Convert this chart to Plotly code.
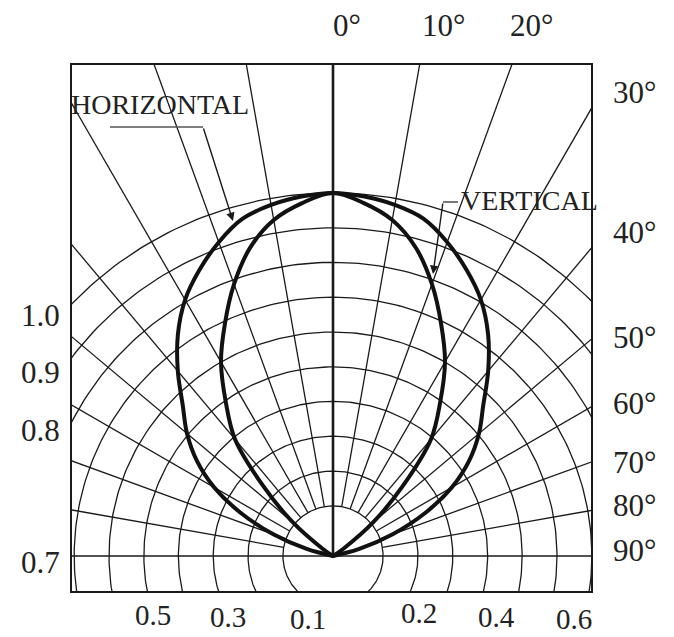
"""Relative luminous intensity diagram (horizontal / vertical lobes)."""

import numpy as np
import plotly.graph_objects as go

# ---- data ---------------------------------------------------------------
angles_deg = [0, 5, 10, 15, 20, 25, 30, 35, 40, 45, 50, 55, 60, 65, 70, 75, 80, 85, 90]
horizontal = [1.0, 0.994, 0.982, 0.962, 0.92, 0.87, 0.815, 0.745, 0.665, 0.585,
              0.525, 0.458, 0.378, 0.28, 0.175, 0.075, 0.0, 0.0, 0.0]
vertical = [1.0, 0.976, 0.94, 0.88, 0.797, 0.705, 0.617, 0.514, 0.42, 0.27,
            0.145, 0.035, 0.0, 0.0, 0.0, 0.0, 0.0, 0.0, 0.0]

grid_radii = [0.138, 0.234, 0.330, 0.426, 0.521, 0.617, 0.713, 0.809, 0.904, 1.0]
grid_angles = [-80, -70, -60, -50, -40, -30, -20, -10, 10, 20, 30, 40, 50, 60, 70, 80]

left_labels = ["1.0", "0.9", "0.8", "0.7"]
bottom_labels = ["0.5", "0.3", "0.1", "0.2", "0.4", "0.6"]
top_labels = ["0°", "10°", "20°"]
right_labels = ["30°", "40°", "50°", "60°", "70°", "80°", "90°"]

# ---- layout geometry (page pixels of the 674x637 window) ----------------
OFF = 8                                    # default body margin of the html page
W, H = 674 - OFF, 637 - OFF
PL, PR, PT, PB = 72, 591, 65, 591          # plot frame in page pixels
left_pos = [(62, 315), (62, 372), (62, 430), (62, 562)]
bottom_pos = [(153, 615), (228, 617), (308, 619), (419, 613), (496, 617), (574, 619)]
top_pos = [(347, 25), (443, 25), (531, 25)]
right_pos = [(611, 92), (611, 233), (611, 337), (611, 403), (611, 462), (611, 505), (611, 550)]

INK = "#1a1a1a"
FONT = "Liberation Serif, Times New Roman, serif"


def px(x, y):
    """Page pixels -> paper coordinates."""
    return (x - PL) / (PR - PL), (PB - y) / (PB - PT)


fig = go.Figure()

# concentric circles (full circles, clipped by the frame)
t = np.linspace(0, 2 * np.pi, 361)
for r in grid_radii:
    fig.add_trace(go.Scatter(
        x=r * np.sin(t), y=r * np.cos(t), mode="lines",
        line={"color": INK, "width": 1.3}, hoverinfo="skip", showlegend=False,
    ))

# radial lines from the inner circle out past the frame
for a in grid_angles:
    th = np.radians(a)
    rr = np.array([grid_radii[0], 3.0])
    fig.add_trace(go.Scatter(
        x=rr * np.sin(th), y=rr * np.cos(th), mode="lines",
        line={"color": INK, "width": 1.3}, hoverinfo="skip", showlegend=False,
    ))

# 90 degree axis across the whole frame, 0 degree axis upwards
fig.add_trace(go.Scatter(x=[-3, 3], y=[0, 0], mode="lines",
                         line={"color": INK, "width": 1.6},
                         hoverinfo="skip", showlegend=False))
fig.add_trace(go.Scatter(x=[0, 0], y=[0, 3], mode="lines",
                         line={"color": INK, "width": 2.6},
                         hoverinfo="skip", showlegend=False))

# lobes
for name, vals in [("HORIZONTAL", horizontal), ("VERTICAL", vertical)]:
    full_ang = [-a for a in angles_deg[::-1]] + angles_deg[1:]
    full_r = vals[::-1] + vals[1:]
    th = np.radians(full_ang)
    r = np.array(full_r)
    fig.add_trace(go.Scatter(
        x=r * np.sin(th), y=r * np.cos(th), mode="lines", name=name,
        line={"color": "#111111", "width": 4, "shape": "spline", "smoothing": 1.0},
        showlegend=False,
    ))

# text labels
annotations = []


def add_text(text, x, y, xanchor="center", size=31):
    ax_, ay_ = px(x, y)
    annotations.append({
        "text": text, "x": ax_, "y": ay_, "xref": "paper", "yref": "paper",
        "xanchor": xanchor, "yanchor": "middle", "showarrow": False,
        "font": {"family": FONT, "size": size, "color": "#222222"},
    })


for txt, (x, y) in zip(left_labels, left_pos):
    add_text(txt, x, y, xanchor="right")
for txt, (x, y) in zip(bottom_labels, bottom_pos):
    add_text(txt, x, y, size=29)
for txt, (x, y) in zip(top_labels, top_pos):
    add_text(txt, x, y)
for txt, (x, y) in zip(right_labels, right_pos):
    add_text(txt, x, y, xanchor="left")

add_text("HORIZONTAL", 160, 104, size=28)
add_text("VERTICAL", 529, 200, size=28)

# leader lines with arrow tips
for (x0, y0), (x1, y1) in [((203, 127), (233, 221)), ((443, 202), (433, 274))]:
    tx, ty = px(x1, y1)
    annotations.append({
        "x": tx, "y": ty, "ax": x0 - x1, "ay": y0 - y1,
        "xref": "paper", "yref": "paper", "axref": "pixel", "ayref": "pixel",
        "text": "", "showarrow": True,
        "arrowhead": 2, "arrowsize": 1.2, "arrowwidth": 1.4, "arrowcolor": INK,
    })

shapes = []
for (x0, y0), (x1, y1) in [((110, 127), (203, 127)), ((443, 202), (458, 202))]:
    a0, b0 = px(x0, y0)
    a1, b1 = px(x1, y1)
    shapes.append({"type": "line", "xref": "paper", "yref": "paper",
                   "x0": a0, "y0": b0, "x1": a1, "y1": b1,
                   "line": {"color": "#555555", "width": 1.6}})

scale = 363.0  # pixels per unit of relative intensity
ox, oy = 333, 556  # origin in page pixels
fig.update_layout(
    width=W, height=H,
    margin={"l": PL - OFF, "r": W - (PR - OFF), "t": PT - OFF, "b": H - (PB - OFF), "pad": 0},
    paper_bgcolor="white", plot_bgcolor="white",
    xaxis={"range": [(PL - ox) / scale, (PR - ox) / scale],
           "showgrid": False, "zeroline": False, "showticklabels": False,
           "ticks": "", "showline": True, "mirror": True,
           "linecolor": INK, "linewidth": 2},
    yaxis={"range": [(oy - PB) / scale, (oy - PT) / scale],
           "showgrid": False, "zeroline": False, "showticklabels": False,
           "ticks": "", "showline": True, "mirror": True,
           "linecolor": INK, "linewidth": 2},
    annotations=annotations, shapes=shapes,
    showlegend=False,
)

fig.write_html("out.html")
